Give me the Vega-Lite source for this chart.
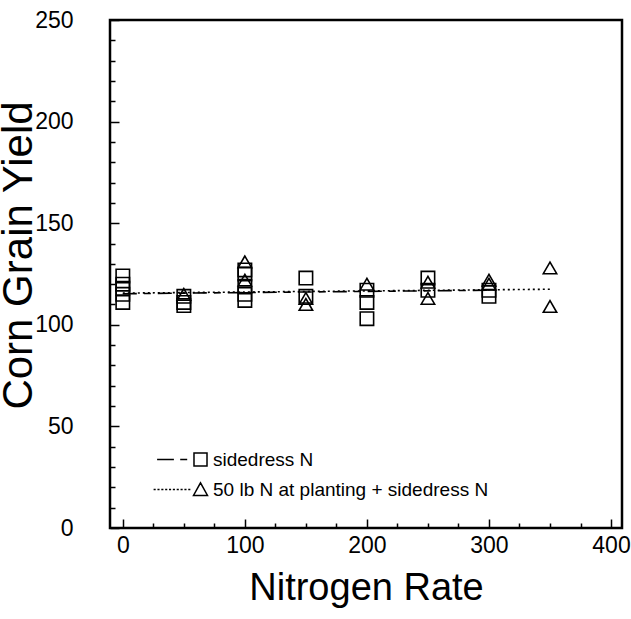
{
  "$schema": "https://vega.github.io/schema/vega-lite/v6.json",
  "width": 512,
  "height": 508,
  "autosize": "none",
  "padding": {"left": 110, "top": 20, "right": 9, "bottom": 91},
  "background": "white",
  "config": {
    "view": {"stroke": "black", "strokeWidth": 2.5},
    "font": "Liberation Sans",
    "axis": {"labelOverlap": false}
  },
  "datasets": {
    "points": [
      {"nitrogen": 0, "yield": 124, "treatment": "sidedress N"},
      {"nitrogen": 0, "yield": 120, "treatment": "sidedress N"},
      {"nitrogen": 0, "yield": 118, "treatment": "sidedress N"},
      {"nitrogen": 0, "yield": 115, "treatment": "sidedress N"},
      {"nitrogen": 0, "yield": 111, "treatment": "sidedress N"},
      {"nitrogen": 50, "yield": 114, "treatment": "sidedress N"},
      {"nitrogen": 50, "yield": 111, "treatment": "sidedress N"},
      {"nitrogen": 50, "yield": 109.5, "treatment": "sidedress N"},
      {"nitrogen": 50, "yield": 115, "treatment": "50 lb N at planting + sidedress N"},
      {"nitrogen": 100, "yield": 127, "treatment": "sidedress N"},
      {"nitrogen": 100, "yield": 125, "treatment": "sidedress N"},
      {"nitrogen": 100, "yield": 119, "treatment": "sidedress N"},
      {"nitrogen": 100, "yield": 115, "treatment": "sidedress N"},
      {"nitrogen": 100, "yield": 112, "treatment": "sidedress N"},
      {"nitrogen": 100, "yield": 131, "treatment": "50 lb N at planting + sidedress N"},
      {"nitrogen": 100, "yield": 122, "treatment": "50 lb N at planting + sidedress N"},
      {"nitrogen": 150, "yield": 123, "treatment": "sidedress N"},
      {"nitrogen": 150, "yield": 114, "treatment": "sidedress N"},
      {"nitrogen": 150, "yield": 113, "treatment": "50 lb N at planting + sidedress N"},
      {"nitrogen": 150, "yield": 110, "treatment": "50 lb N at planting + sidedress N"},
      {"nitrogen": 200, "yield": 117, "treatment": "sidedress N"},
      {"nitrogen": 200, "yield": 111, "treatment": "sidedress N"},
      {"nitrogen": 200, "yield": 103, "treatment": "sidedress N"},
      {"nitrogen": 200, "yield": 120, "treatment": "50 lb N at planting + sidedress N"},
      {"nitrogen": 250, "yield": 123, "treatment": "sidedress N"},
      {"nitrogen": 250, "yield": 117, "treatment": "sidedress N"},
      {"nitrogen": 250, "yield": 121, "treatment": "50 lb N at planting + sidedress N"},
      {"nitrogen": 250, "yield": 113, "treatment": "50 lb N at planting + sidedress N"},
      {"nitrogen": 300, "yield": 117, "treatment": "sidedress N"},
      {"nitrogen": 300, "yield": 114, "treatment": "sidedress N"},
      {"nitrogen": 300, "yield": 122, "treatment": "50 lb N at planting + sidedress N"},
      {"nitrogen": 300, "yield": 120, "treatment": "50 lb N at planting + sidedress N"},
      {"nitrogen": 350, "yield": 128, "treatment": "50 lb N at planting + sidedress N"},
      {"nitrogen": 350, "yield": 109, "treatment": "50 lb N at planting + sidedress N"}
    ],
    "fits": [
      {"nitrogen": 0, "yield": 115.3, "fit": "sidedress fit"},
      {"nitrogen": 300, "yield": 117, "fit": "sidedress fit"},
      {"nitrogen": 0, "yield": 115.6, "fit": "planting fit"},
      {"nitrogen": 350, "yield": 117.5, "fit": "planting fit"}
    ]
  },
  "encoding": {
    "x": {
      "field": "nitrogen", "type": "quantitative",
      "scale": {"domain": [-10.5, 409], "nice": false, "zero": false},
      "axis": {
        "title": "Nitrogen Rate",
        "values": [0, 25, 50, 75, 100, 125, 150, 175, 200, 225, 250, 275, 300, 325, 350, 375, 400],
        "labelExpr": "datum.value % 100 === 0 ? datum.label : ''",
        "labelFontSize": 23,
        "tickSize": {"condition": {"test": "datum.value % 100 === 0", "value": -9}, "value": -5},
        "tickColor": "black",
        "tickWidth": 1.5,
        "domain": false,
        "grid": false,
        "labelColor": "black",
        "labelPadding": 15,
        "labelFlush": false,
        "labelOverlap": false,
        "labelBound": false,
        "titleFontSize": 38,
        "titleFontWeight": "normal",
        "titleColor": "black",
        "titlePadding": 8
      }
    },
    "y": {
      "field": "yield", "type": "quantitative",
      "scale": {"domain": [0, 250], "nice": false, "zero": false},
      "axis": {
        "title": "Corn Grain Yield",
        "values": [0, 10, 20, 30, 40, 50, 60, 70, 80, 90, 100, 110, 120, 130, 140, 150, 160, 170, 180, 190, 200, 210, 220, 230, 240, 250],
        "labelExpr": "datum.value % 50 === 0 ? datum.label : ''",
        "labelFontSize": 23,
        "tickSize": {"condition": {"test": "datum.value % 50 === 0", "value": -9}, "value": -5},
        "tickColor": "black",
        "tickWidth": 1.5,
        "domain": false,
        "grid": false,
        "labelColor": "black",
        "labelPadding": 46,
        "labelFlush": false,
        "labelOverlap": false,
        "labelBound": false,
        "titleFontSize": 42,
        "titleFontWeight": "normal",
        "titleColor": "black",
        "titlePadding": -6,
        "titleY": 235
      }
    }
  },
  "resolve": {"scale": {"shape": "independent"}, "legend": {"shape": "independent"}},
  "layer": [
    {
      "data": {"name": "fits"},
      "mark": {"type": "line", "color": "black", "strokeWidth": 1.6},
      "encoding": {
        "strokeDash": {
          "field": "fit", "type": "nominal",
          "scale": {"domain": ["sidedress fit", "planting fit"], "range": [[14, 7, 7, 7], [2, 3]]},
          "legend": null
        }
      }
    },
    {
      "data": {"name": "points"},
      "mark": {"type": "point", "filled": false, "stroke": "black", "strokeWidth": 1.6, "size": 180, "opacity": 1},
      "encoding": {
        "shape": {
          "field": "treatment", "type": "nominal",
          "scale": {"domain": ["sidedress N", "50 lb N at planting + sidedress N"], "range": ["square", "triangle-up"]},
          "legend": null
        }
      }
    },
    {
      "data": {"name": "points"},
      "mark": {"type": "point", "filled": false, "stroke": "black", "strokeWidth": 1.5, "size": 196, "opacity": 0},
      "encoding": {
        "shape": {
          "field": "treatment", "type": "nominal",
          "scale": {
            "domain": ["sidedress N", "50 lb N at planting + sidedress N"],
            "range": [
              "M-6.2,0L-3.8,0M-2.9,0L-1.9,0M-0.93,-0.93L0.93,-0.93L0.93,0.93L-0.93,0.93Z",
              "M-6.7,0L-6.4,0M-6.15,0L-5.85,0M-5.6,0L-5.3,0M-5.05,0L-4.75,0M-4.5,0L-4.2,0M-3.95,0L-3.65,0M-3.4,0L-3.1,0M-2.85,0L-2.55,0M-2.3,0L-2,0M-1.75,0L-1.45,0M-1,0.85L1,0.85L0,-0.95Z"
            ]
          },
          "legend": {
            "title": null,
            "orient": "none",
            "legendX": 81,
            "legendY": 430,
            "padding": 0,
            "symbolSize": 196,
            "symbolOpacity": 1,
            "symbolStrokeColor": "black",
            "symbolFillColor": "transparent",
            "symbolStrokeWidth": 1.5,
            "labelFontSize": 19,
            "labelColor": "black",
            "labelFont": "Liberation Sans",
            "labelLimit": 500,
            "rowPadding": 9,
            "labelOffset": 3
          }
        }
      }
    }
  ]
}
